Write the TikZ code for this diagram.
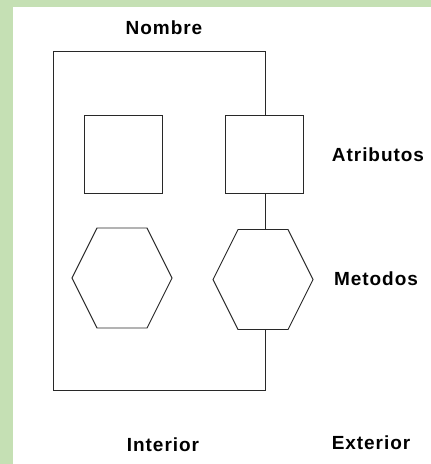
\documentclass[tikz,border=0pt]{standalone}
\usepackage{fontspec}
\setmainfont{Liberation Sans}
\newfontfamily\lblfont[LetterSpace=5]{Liberation Sans}
\definecolor{bggreen}{RGB}{197,224,180}
\definecolor{ink}{RGB}{40,40,40}
\tikzset{
  box/.style={draw=ink, line width=1pt, minimum width=78pt, minimum height=78pt, inner sep=0pt},
  conn/.style={draw=ink, line width=1pt},
  hexline/.style={draw=ink, line width=0.9pt, line join=miter},
  lbl/.style={font=\lblfont\bfseries\fontsize{19}{21}\selectfont, inner sep=0pt, text=black},
  hexa/.pic={
    \draw[hexline] (-25,-50) -- (25,-50) -- (50,0) -- (25,50) -- (-25,50) -- (-50,0) -- cycle;
    \coordinate (-top) at (0,-50);
    \coordinate (-bot) at (0,50);
  }
}
\begin{document}
\begin{tikzpicture}[x=1pt,y=-1pt]
  \useasboundingbox (0,0) rectangle (431,464);
  \fill[bggreen] (0,0) rectangle (431,464);
  \fill[white] (13,7) rectangle (431,464);
  % shapes
  \node[box] (s1) at (123,154) {};
  \node[box] (s2) at (264,154) {};
  \pic (h1) at (122,278) {hexa};
  \pic (h2) at (263,279.5) {hexa};
  % frame
  \coordinate (axis) at (265.5,0);
  \coordinate (tl) at (53,51);
  \coordinate (bl) at (53,390);
  \coordinate (br) at (265.5,390);
  \draw[conn] (s2.north -| axis) -- (tl -| axis) -- (tl) -- (bl) -- (br) -- (h2-bot -| axis);
  \draw[conn] (s2.south -| axis) -- (h2-top -| axis);
  % labels
  \node[lbl] (nombre) at (164,28) {Nombre};
  \node[lbl] (atrib) at (378,155) {Atributos};
  \node[lbl] (metodos) at (376,279) {Metodos};
  \node[lbl] (interior) at (163,445) {Interior};
  \node[lbl] (exterior) at (371,443) {Exterior};
\end{tikzpicture}
\end{document}
